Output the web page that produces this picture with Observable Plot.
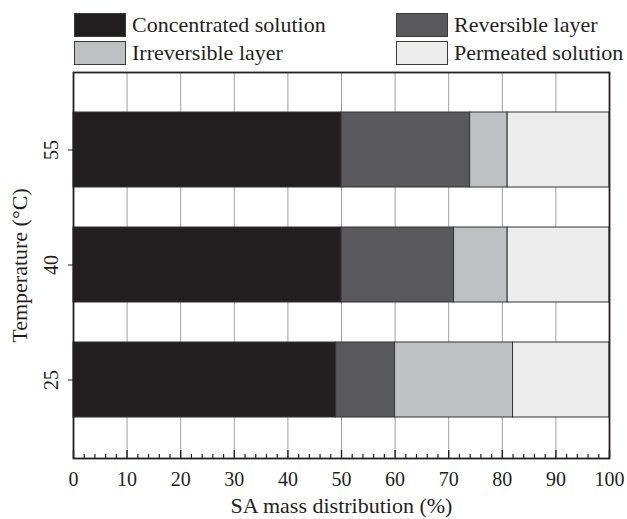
<!DOCTYPE html>
<html>
<head>
<meta charset="utf-8">
<script src="https://cdn.jsdelivr.net/npm/d3@7"></script>
<script src="https://cdn.jsdelivr.net/npm/@observablehq/plot@0.6"></script>
<style>
  html, body { margin: 0; padding: 0; background: #fff; }
  #wrap { position: relative; width: 627px; height: 519px; font-family: "Liberation Serif", "Times New Roman", serif; color: #231f20; }
  #legend { position: absolute; left: 0; top: 0; width: 627px; height: 68px; }
  .item { position: absolute; display: flex; align-items: center; height: 24px; font-size: 22px; white-space: nowrap; }
  .sw { width: 50px; height: 22px; border: 1.2px solid #3a3a3a; margin-right: 6px; box-sizing: content-box; }
  #chart { position: absolute; left: 0; top: 68px; }
</style>
</head>
<body>
<div id="wrap">
  <div id="legend"></div>
  <div id="chart"></div>
</div>
<script>
const temps = ["55", "40", "25"];
const categories = ["Concentrated solution", "Reversible layer", "Irreversible layer", "Permeated solution"];
const concentrated = [50, 50, 49];
const reversible = [24, 21, 11];
const irreversible = [7, 10, 22];
const permeated = [19, 19, 18];
const colors = ["#231f20", "#59595b", "#bfc0c2", "#ececec"];
const xTicks = [0, 10, 20, 30, 40, 50, 60, 70, 80, 90, 100];
const gridTicks = [10, 20, 30, 40, 50, 60, 70, 80, 90];
const minorTicks = d3.range(0, 101, 2).filter(d => d % 10 !== 0);

const series = [concentrated, reversible, irreversible, permeated];
const data = [];
temps.forEach((t, i) => {
  categories.forEach((c, j) => data.push({temp: t, cat: c, value: series[j][i]}));
});

// legend (HTML, above the SVG)
const legendPos = [
  {left: 74, top: 13}, {left: 396, top: 13},
  {left: 74, top: 41}, {left: 396, top: 41}
];
const legend = document.getElementById("legend");
categories.forEach((c, k) => {
  const it = document.createElement("div");
  it.className = "item";
  it.style.left = legendPos[k].left + "px";
  it.style.top = legendPos[k].top + "px";
  const sw = document.createElement("div");
  sw.className = "sw";
  sw.style.background = colors[k];
  const tx = document.createElement("span");
  tx.textContent = c;
  it.appendChild(sw);
  it.appendChild(tx);
  legend.appendChild(it);
});

const W = 627, H = 451, mT = 4, mB = 61, mL = 73, mR = 18;
const frameH = H - mT - mB;
const ink = "#231f20";

const chart = Plot.plot({
  width: W, height: H,
  marginTop: mT, marginBottom: mB, marginLeft: mL, marginRight: mR,
  style: {fontFamily: "'Liberation Serif', 'Times New Roman', serif", fontSize: "20px", color: ink, background: "white"},
  x: {domain: [0, 100]},
  y: {domain: temps, padding: 0.345},
  color: {domain: categories, range: colors},
  marks: [
    Plot.ruleX(gridTicks, {x: d => d, stroke: "#a0a0a0", strokeWidth: 1}),
    Plot.barX(data, {x: "value", y: "temp", fill: "cat", stroke: "#333", strokeWidth: 1}),
    Plot.ruleX(minorTicks, {x: d => d, insetTop: frameH - 4, stroke: ink, strokeWidth: 1.2}),
    Plot.ruleX(xTicks, {x: d => d, insetTop: frameH - 8, stroke: ink, strokeWidth: 1.4}),
    Plot.axisX({ticks: xTicks, tickSize: 0, tickPadding: 13, fontSize: 20, label: null}),
    Plot.axisX({ticks: [], tickSize: 0, fontSize: 22, label: "SA mass distribution (%)", labelAnchor: "center", labelArrow: "none", labelOffset: 54}),
    Plot.axisY({tickSize: 5, tickRotate: -90, tickPadding: 11, fontSize: 20, label: null, stroke: ink}),
    Plot.axisY({anchor: "right", tickSize: 0, tickFormat: () => "", label: null}),
    Plot.axisY({ticks: [], tickSize: 0, fontSize: 22, label: "Temperature (°C)", labelAnchor: "center", labelArrow: "none", labelOffset: 62}),
    Plot.frame({stroke: ink, strokeWidth: 1.8})
  ]
});
document.getElementById("chart").appendChild(chart);
</script>
</body>
</html>
